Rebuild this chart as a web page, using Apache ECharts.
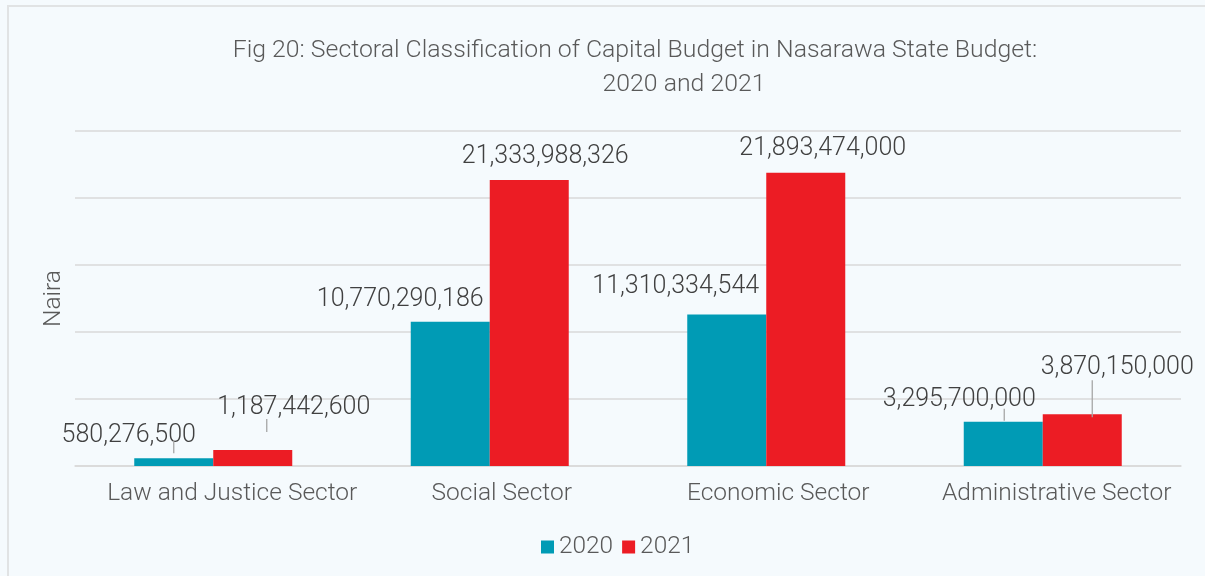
<!DOCTYPE html>
<html>
<head>
<meta charset="utf-8">
<script src="https://cdn.jsdelivr.net/npm/echarts@6/dist/echarts.min.js"></script>
<style>
  html, body { margin: 0; padding: 0; background: #f4f9fc; }
  #wrap { position: relative; width: 1205px; height: 576px; overflow: hidden; }
  #chart { position: absolute; left: 0; top: 0; width: 1205px; height: 576px; }
  #frame {
    position: absolute; left: 7px; top: 5px; right: -4px; bottom: -4px;
    border-top: 2px solid #e1e3e4; border-left: 2px solid #e1e3e4;
    pointer-events: none;
  }
</style>
</head>
<body>
<div id="wrap">
  <div id="chart"></div>
  <div id="frame"></div>
</div>
<script>
// Capital budget by sector, Nasarawa State (Naira)
const sectors = ['Law and Justice Sector', 'Social Sector', 'Economic Sector', 'Administrative Sector'];
const budget2020 = [580276500, 10770290186, 11310334544, 3295700000];
const budget2021 = [1187442600, 21333988326, 21893474000, 3870150000];

// Offsets (px) that lift the value labels away from the bar tops
const shift2020 = [[-45, -10], [-50, -9], [-51, -15], [-44, -10]];
const shift2021 = [[41, -30], [16, -11], [17, -11], [35, -34]];

// Leader lines (px): [x offset from bar centre, gap above bar top, length]
const leader2020 = [[0, 5, 13], null, null, [1, 1, 12]];
const leader2021 = [[14, 18, 13], null, null, [10, -3, 37]];

// Horizontal nudge (px) of each category label
const catNudge = [19, 12, 12, 14];

const FONT = 'Roboto';
const BAR_W = 79;
const fmt = v => Number(v).toLocaleString('en-US');

const chart = echarts.init(document.getElementById('chart'), null, { renderer: 'canvas' });

function barSeries(name, data, color, shift) {
  return {
    name: name,
    type: 'bar',
    data: data,
    barWidth: BAR_W,
    barGap: '0%',
    itemStyle: { color: color },
    label: {
      show: true,
      position: 'top',
      distance: 0,
      formatter: p => fmt(p.value),
      color: '#404040',
      fontFamily: FONT,
      fontWeight: 300,
      fontSize: 25
    },
    labelLayout: p => ({ dx: shift[p.dataIndex][0], dy: shift[p.dataIndex][1] }),
    emphasis: { disabled: true }
  };
}

function leaderSeries(data, leaders, side) {
  return {
    type: 'custom',
    silent: true,
    z: 5,
    data: data.map((v, i) => [i, v]),
    renderItem: function (params, api) {
      const ld = leaders[params.dataIndex];
      if (!ld) return null;
      const top = api.coord([api.value(0), api.value(1)]);
      const x = top[0] + side * BAR_W / 2 + ld[0];
      const y2 = top[1] - ld[1];
      const y1 = y2 - ld[2];
      return {
        type: 'line',
        shape: { x1: x, y1: y1, x2: x, y2: y2 },
        style: { stroke: '#a6a6a6', lineWidth: 1.3 }
      };
    }
  };
}

const catRich = {};
catNudge.forEach((n, i) => {
  catRich['c' + i] = {
    color: '#595959', fontFamily: FONT, fontWeight: 300, fontSize: 24.5,
    padding: [0, 0, 0, 2 * n]
  };
});

chart.setOption({
  backgroundColor: '#f5fafd',
  animation: false,
  title: [
    {
      text: 'Fig 20: Sectoral Classification of Capital Budget in Nasarawa State Budget:',
      left: 630, top: 33, textAlign: 'center',
      textStyle: { color: '#595959', fontFamily: FONT, fontWeight: 300, fontSize: 24.8 }
    },
    {
      text: '2020 and 2021',
      left: 679, top: 67, textAlign: 'center',
      textStyle: { color: '#595959', fontFamily: FONT, fontWeight: 300, fontSize: 24.8 }
    }
  ],
  legend: {
    bottom: 12,
    left: 536,
    itemWidth: 13,
    itemHeight: 13,
    itemGap: 9,
    icon: 'rect',
    textStyle: { color: '#595959', fontFamily: FONT, fontWeight: 300, fontSize: 24.4 },
    data: ['2020', '2021']
  },
  grid: { left: 75, right: 24, top: 131, bottom: 110, containLabel: false },
  xAxis: {
    type: 'category',
    data: sectors,
    axisLine: { lineStyle: { color: '#d9d9d9', width: 1.5 } },
    axisTick: { show: false },
    axisLabel: {
      interval: 0, margin: 15,
      color: '#595959', fontFamily: FONT, fontWeight: 300, fontSize: 24.5,
      formatter: (v, i) => '{c' + i + '|' + v + '}',
      rich: catRich
    }
  },
  yAxis: {
    type: 'value',
    min: 0,
    max: 25000000000,
    interval: 5000000000,
    name: 'Naira',
    nameLocation: 'middle',
    nameGap: 9,
    nameTextStyle: { color: '#595959', fontFamily: FONT, fontWeight: 300, fontSize: 24.5 },
    axisLabel: { show: false },
    axisLine: { show: false },
    axisTick: { show: false },
    splitLine: { lineStyle: { color: '#d9d9d9', width: 1.5 } }
  },
  series: [
    barSeries('2020', budget2020, '#009bb5', shift2020),
    barSeries('2021', budget2021, '#ec1c24', shift2021),
    leaderSeries(budget2020, leader2020, -1),
    leaderSeries(budget2021, leader2021, 1)
  ]
});
</script>
</body>
</html>
